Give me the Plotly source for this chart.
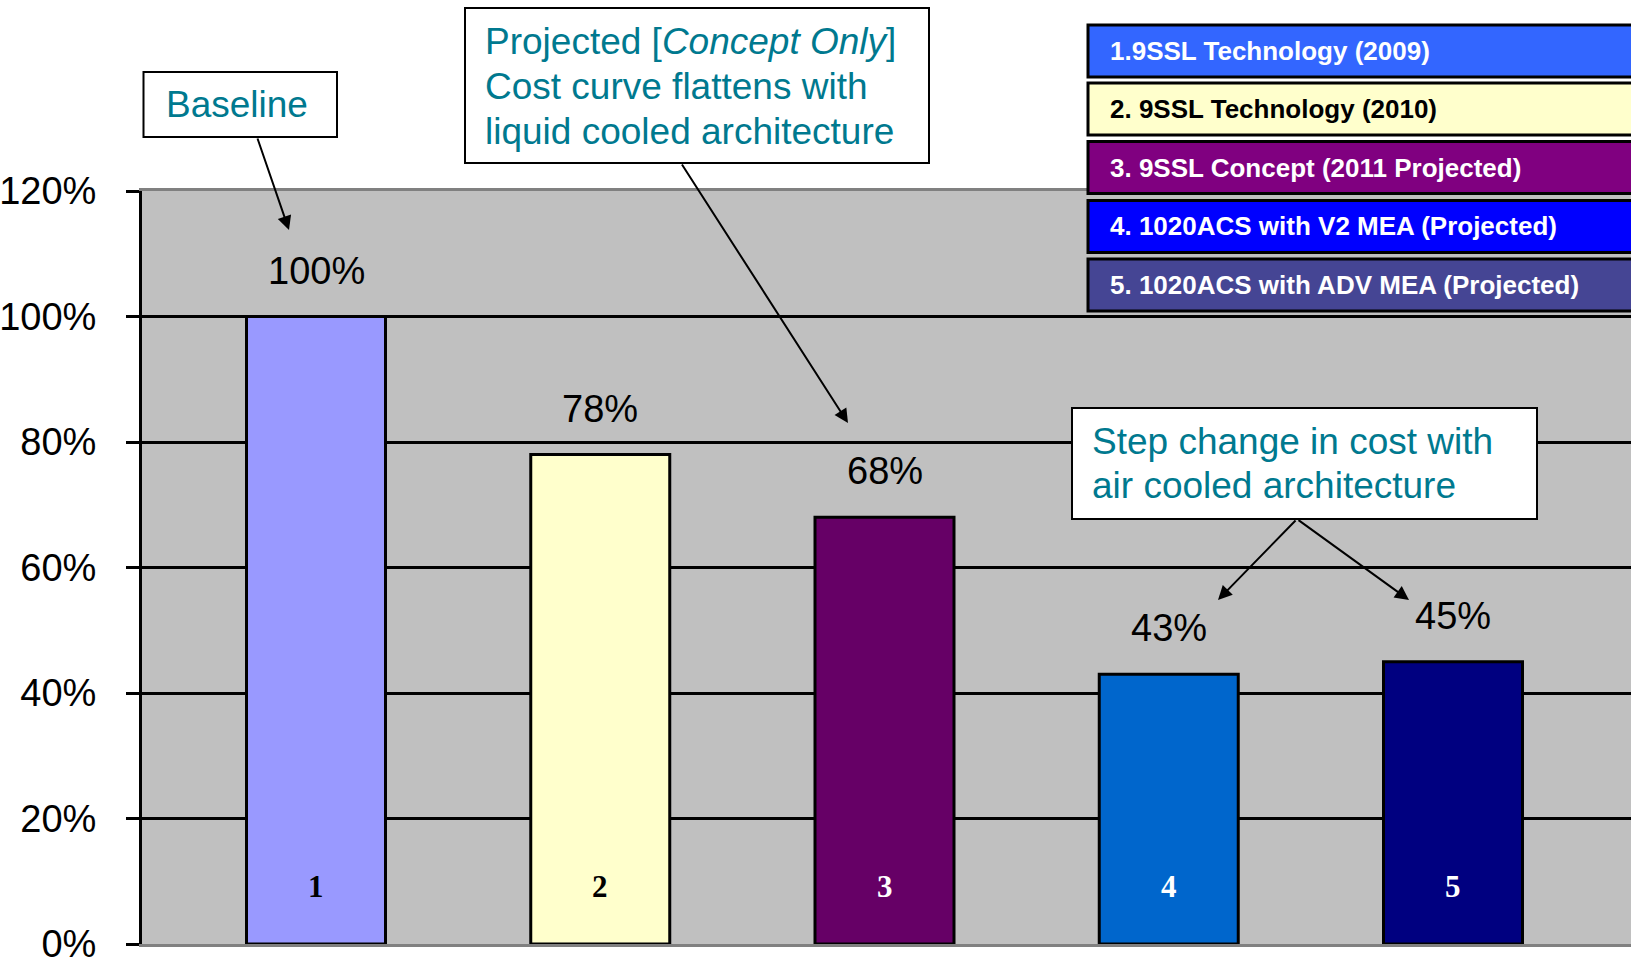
import plotly.graph_objects as go

# ---- data -------------------------------------------------------------
categories = [1, 2, 3, 4, 5]
cost_share = [1.00, 0.78, 0.68, 0.43, 0.45]
bar_colors = ["#9999FF", "#FFFFCC", "#660066", "#0066CC", "#000080"]
number_colors = ["black", "black", "white", "white", "white"]

legend_labels = [
    "1.9SSL Technology (2009)",
    "2. 9SSL Technology (2010)",
    "3. 9SSL Concept (2011 Projected)",
    "4. 1020ACS with V2 MEA (Projected)",
    "5. 1020ACS with ADV MEA (Projected)",
]
legend_fills = ["#3366FF", "#FFFFCC", "#800080", "#0000FF", "#454594"]
legend_text_colors = ["white", "black", "white", "white", "white"]

y_ticks = [0, 0.2, 0.4, 0.6, 0.8, 1.0, 1.2]

# ---- page geometry ----------------------------------------------------
W, H = 1631, 962
L, T, B = 142, 191, 18
PW, PH = W - L, H - T - B
TEAL = "#00798F"
SANS = "Liberation Sans, Arial, sans-serif"


def px(x):
    return (x - L) / PW


def py(y):
    return (H - B - y) / PH


fig = go.Figure()
fig.add_trace(go.Bar(
    x=categories, y=cost_share, width=0.489,
    marker=dict(color=bar_colors, line=dict(color="black", width=3)),
    showlegend=False, hoverinfo="skip",
))

annotations = []
shapes = []

# value labels above bars and category numbers inside bars
for c, v, nc in zip(categories, cost_share, number_colors):
    annotations.append(dict(
        x=c, y=v, xref="x", yref="y", yshift=46, yanchor="middle",
        text=f"{v:.0%}", showarrow=False,
        font=dict(family=SANS, size=38, color="black"),
    ))
    annotations.append(dict(
        x=c, y=0, xref="x", yref="y", yshift=58, yanchor="middle",
        text=str(c), showarrow=False,
        font=dict(family="Liberation Serif, Times New Roman, serif", size=31,
                  color=nc, weight="bold"),
    ))

# legend boxes
tops = [25, 83, 141.5, 200.5, 259]
for top, lab, fill, tc in zip(tops, legend_labels, legend_fills, legend_text_colors):
    shapes.append(dict(
        type="rect", xref="paper", yref="paper",
        x0=px(1088), x1=px(1650), y0=py(top + 52), y1=py(top),
        fillcolor=fill, line=dict(color="black", width=3), layer="above",
    ))
    annotations.append(dict(
        x=px(1108), y=py(top + 26), xref="paper", yref="paper",
        xanchor="left", yanchor="middle", text=lab, showarrow=False,
        font=dict(family=SANS, size=26, color=tc, weight="bold"),
    ))

# callout boxes
callouts = [
    ((143.5, 72, 337, 137), 164, [(104.5, "Baseline")]),
    ((465, 8, 929, 163), 483, [
        (41.6, "Projected [<i>Concept Only</i>]"),
        (86.3, "Cost curve flattens with"),
        (131, "liquid cooled architecture"),
    ]),
    ((1072, 408, 1537, 519), 1090, [
        (441, "Step change in cost with"),
        (485.7, "air cooled architecture"),
    ]),
]
for (x0, y0, x1, y1), tx, lines in callouts:
    shapes.append(dict(
        type="rect", xref="paper", yref="paper",
        x0=px(x0), x1=px(x1), y0=py(y1), y1=py(y0),
        fillcolor="white", line=dict(color="black", width=2), layer="above",
    ))
    for ly, txt in lines:
        annotations.append(dict(
            x=px(tx), y=py(ly), xref="paper", yref="paper",
            xanchor="left", yanchor="middle", text=txt, showarrow=False,
            font=dict(family=SANS, size=37, color=TEAL),
        ))

# arrows (tail -> tip)
arrows = [
    ((257, 137), (289, 230)),
    ((681, 163), (848, 423)),
    ((1297, 519), (1218, 600)),
    ((1297, 519), (1409, 600)),
]
for (tx, ty), (hx, hy) in arrows:
    annotations.append(dict(
        x=px(hx), y=py(hy), xref="paper", yref="paper",
        ax=tx - hx, ay=ty - hy, text="", showarrow=True,
        arrowhead=2, arrowsize=1.4, arrowwidth=2, arrowcolor="black",
        standoff=0, startstandoff=0,
    ))

fig.update_layout(
    width=W, height=H,
    margin=dict(l=L, r=0, t=T, b=B, pad=0),
    paper_bgcolor="white", plot_bgcolor="#C0C0C0",
    annotations=annotations, shapes=shapes,
    xaxis=dict(
        range=[1 - 174 / 284.25, 1 + (W - 316) / 284.25],
        showticklabels=False, showgrid=False, zeroline=False, ticks="",
        showline=True, linecolor="#808080", linewidth=3, mirror=True,
        fixedrange=True,
    ),
    yaxis=dict(
        range=[0, 1.2], tickvals=y_ticks, tickformat=".0%",
        showgrid=True, gridcolor="black", gridwidth=3, zeroline=False,
        showline=True, linecolor="black", linewidth=3,
        ticks="outside", ticklen=13, tickwidth=3, tickcolor="black",
        ticklabelstandoff=22, automargin=False, ticklabeloverflow="allow",
        tickfont=dict(family=SANS, size=38, color="black"),
        fixedrange=True,
    ),
)

fig.write_html("out.html")
